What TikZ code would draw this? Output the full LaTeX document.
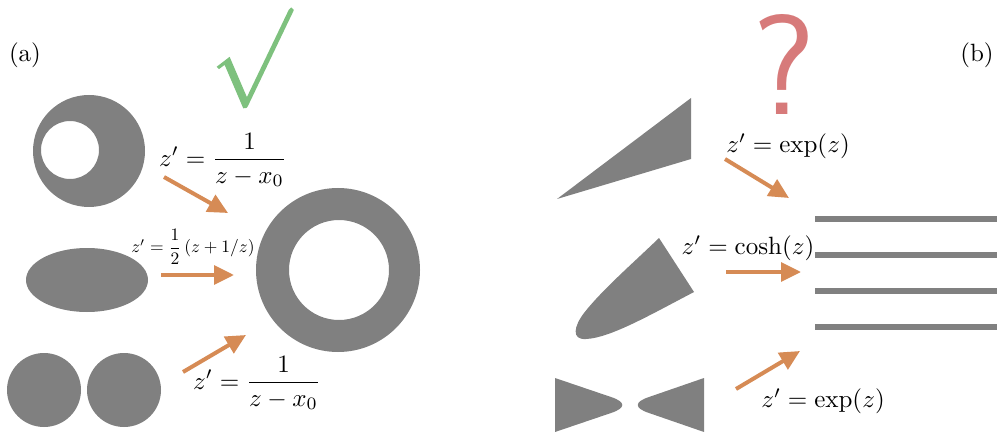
\documentclass[tikz,border=0pt]{standalone}
\usepackage{graphicx}
\usetikzlibrary{arrows.meta}
\definecolor{shapegray}{RGB}{128,128,128}
\definecolor{arrorange}{RGB}{214,139,85}
\definecolor{okgreen}{RGB}{126,193,126}
\definecolor{qred}{RGB}{215,122,122}
\begin{document}
\begin{tikzpicture}[x=0.4pt,y=-0.4pt,
  region/.style={fill=shapegray, draw=none},
  maparrow/.style={draw=arrorange, line width=1.6pt, -{Triangle[length=8pt,width=7.5pt]}},
  lbl/.style={inner sep=0pt},
  bar/.style={draw=shapegray, line width=2.4pt}]
\useasboundingbox (0,0) rectangle (997,432);
% panel labels
\node[lbl] (a) at (25,55) {(a)};
\node[lbl] (b) at (977,55) {(b)};
\node[lbl, text=okgreen] (check) at (250,58) {\scalebox{3.3}{\special{pdf:literal direct 2 Tr 0.18 w 0 j 2 M}\usefont{OMX}{cmex}{m}{n}\char"70\special{pdf:literal direct 0 Tr}}};
\node[lbl, text=qred, font=\sffamily\fontsize{57}{62}\selectfont] (qmark) at (784,64) {?};
% left shapes
\fill[region, even odd rule] (89,151) circle[radius=56] (70,150) circle[radius=29];
\fill[region] (87,280) ellipse[x radius=61, y radius=32];
\fill[region] (44,390) circle[radius=37];
\fill[region] (124,390) circle[radius=37];
\fill[region, even odd rule] (338,270) circle[radius=82] (339,270) circle[radius=50];
% left arrows
\coordinate (l1s) at (164,177); \coordinate (l1e) at (228,213);
\coordinate (l2s) at (161,275); \coordinate (l2e) at (234,275);
\coordinate (l3s) at (183,372); \coordinate (l3e) at (246,335);
\draw[maparrow] (l1s) -- (l1e);
\draw[maparrow] (l2s) -- (l2e);
\draw[maparrow] (l3s) -- (l3e);
% left labels
\node[lbl] (f1) at (223,160) {$z' = \displaystyle\frac{1}{z-x_0}$};
\node[lbl] (f2) at (193,247) {\scalebox{0.7}{$z' = \displaystyle\frac{1}{2}\left(z+1/z\right)$}};
\node[lbl] (f3) at (257,383) {$z' = \displaystyle\frac{1}{z-x_0}$};
% right shapes
\fill[region] (557,199) -- (691,98) -- (691,159) -- cycle;
\fill[region] (659,238) -- (694,292)
  .. controls (650,315) and (610,338) .. (586,339)
  .. controls (571,340) and (574,326) .. (584,313)
  .. controls (602,290) and (632,264) .. cycle;
\fill[region] (555,378) -- (611,397) .. controls (626,402) and (626,408) .. (611,413)
  -- (555,432) -- cycle;
\fill[region] (704,378) -- (649,397) .. controls (634,402) and (634,408) .. (649,413)
  -- (704,432) -- cycle;
\foreach \yy in {219,255,291,327} {
  \draw[bar] (815,\yy) -- (997,\yy);
}
% right arrows
\coordinate (r1s) at (725,159); \coordinate (r1e) at (789,198);
\coordinate (r2s) at (726,272); \coordinate (r2e) at (801,272);
\coordinate (r3s) at (736,389); \coordinate (r3e) at (800,351);
\draw[maparrow] (r1s) -- (r1e);
\draw[maparrow] (r2s) -- (r2e);
\draw[maparrow] (r3s) -- (r3e);
% right labels
\node[lbl] (g1) at (788,146) {$z' = \exp(z)$};
\node[lbl] (g2) at (748,248) {$z' = \cosh(z)$};
\node[lbl] (g3) at (823,401) {$z' = \exp(z)$};
\end{tikzpicture}
\end{document}
